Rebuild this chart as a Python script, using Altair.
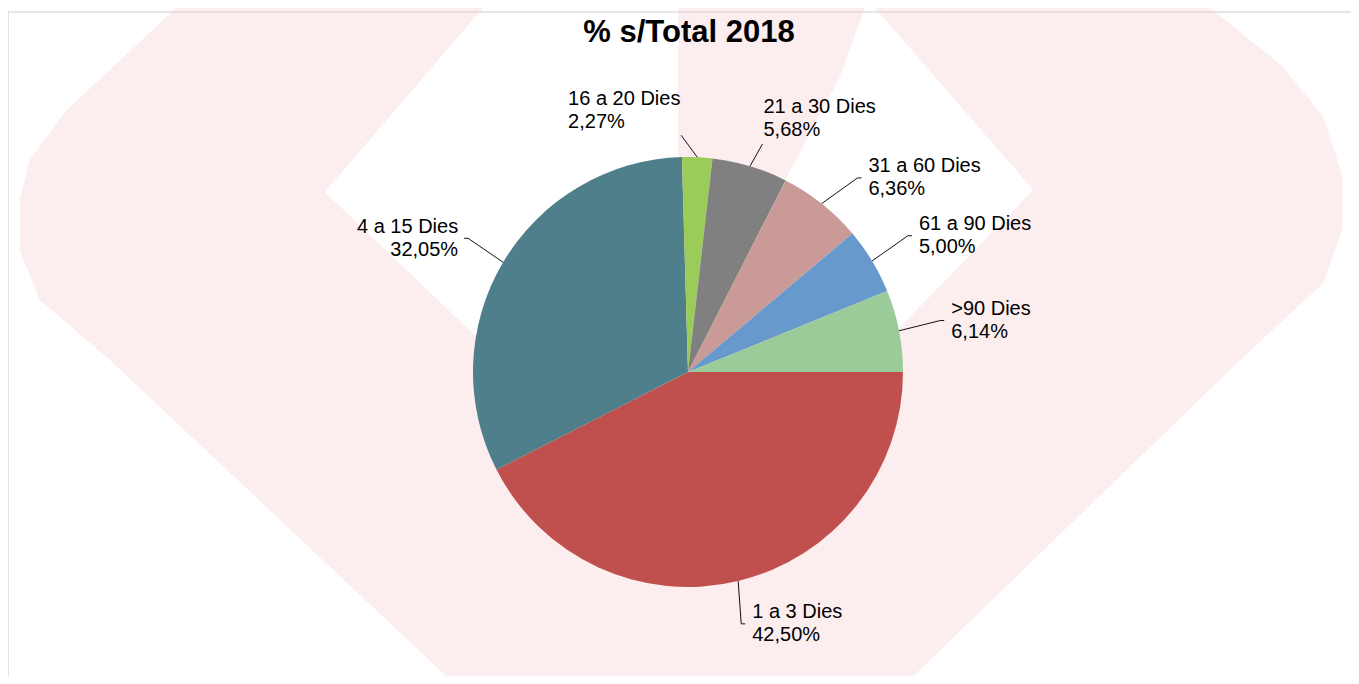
import math
import pandas as pd
import altair as alt

# ---------------- data ----------------
categories = ["1 a 3 Dies", "4 a 15 Dies", "16 a 20 Dies", "21 a 30 Dies",
              "31 a 60 Dies", "61 a 90 Dies", ">90 Dies"]
shares = [42.50, 32.05, 2.27, 5.68, 6.36, 5.00, 6.14]
colors = ["#C0504D", "#4F7F8B", "#9BCB59", "#808080", "#C99A98", "#6799CC", "#9BCB98"]
TITLE = "% s/Total 2018"

# ---------------- layout (screen pixels) ----------------
OX, OY = 8, 12            # view origin on the page
W, H = 1343, 664          # view size
CX, CY = 688, 372         # pie centre
R = 215                   # pie radius
R_LABEL = 258             # radius of label attachment points
FONT = "Liberation Sans"
LINE_H = 23
# small manual nudges of label attachment points (like moved Excel labels)
LABEL_NUDGE = {"1 a 3 Dies": (-7, 1), "4 a 15 Dies": (2, -2), "16 a 20 Dies": (-18, 21),
               "21 a 30 Dies": (0, 19), "31 a 60 Dies": (9, 8), "61 a 90 Dies": (-1, -3),
               ">90 Dies": (-1, -2)}
# labels that sit above their leader instead of beside it: (dx, dy) of text block
LABEL_ABOVE = {"16 a 20 Dies": (-113, -24.5), "21 a 30 Dies": (1, -25)}

# ---------------- derived table ----------------
total = sum(shares)
rows = []
cum = 0.0
for i, (c, v) in enumerate(zip(categories, shares)):
    mid = (cum + v / 2) / total
    cum += v
    phi = 2 * math.pi * mid          # clockwise from 3 o'clock (screen y down)
    ca, sa = math.cos(phi), math.sin(phi)
    ex, ey = CX + R * ca, CY + R * sa
    nx, ny = LABEL_NUDGE.get(c, (0, 0))
    lx, ly = CX + R_LABEL * ca + nx, CY + R_LABEL * sa + ny
    if c in LABEL_ABOVE:
        dx, dy = LABEL_ABOVE[c]
        tx, ty, align, sx = lx + dx, ly + dy, "left", lx
    elif ca >= 0:
        tx, ty, align, sx = lx + 11, ly, "left", lx + 4
    else:
        tx, ty, align, sx = lx - 10, ly, "right", lx - 4
    ty -= LINE_H / 2                 # first of two lines sits half a line above centre
    pct = f"{v:.2f}".replace(".", ",") + "%"
    rows.append(dict(cat=c, share=v, idx=i, ex=ex, ey=ey, lx=lx, ly=ly, sx=sx,
                     tx=tx, ty=ty, align=align, label=f"{c}\n{pct}"))
df = pd.DataFrame(rows)

# ---------------- faint background logo (decoration) ----------------
PINK = "#fcedee"
wm_pink = [(185, 0), (1200, 0), (1283, 67), (1323, 117), (1342, 175), (1342, 230),
           (1323, 283), (1240, 360), (905, 684), (455, 684), (110, 360), (40, 300),
           (20, 250), (20, 200), (30, 160), (67, 110)]
wm_white1 = [(490, 0), (678, 0), (678, 400), (540, 397), (325, 192)]
wm_white2 = [(868, 0), (1033, 190), (900, 327), (800, 430), (760, 228), (840, 77)]
wm_rows = []
for name, pts in (("pink", wm_pink), ("w1", wm_white1), ("w2", wm_white2)):
    for k, (px, py) in enumerate(pts):
        wm_rows.append(dict(shape=name, k=k, wx=px, wy=py))
wm = pd.DataFrame(wm_rows)

xs = alt.Scale(domain=[OX, OX + W], nice=False, zero=False)
ys = alt.Scale(domain=[OY, OY + H], reverse=True, nice=False, zero=False)

wm_base = alt.Chart(wm).encode(
    x=alt.X("wx:Q", scale=xs, axis=None),
    y=alt.Y("wy:Q", scale=ys, axis=None),
    order=alt.Order("k:Q"),
    detail="shape:N",
)
wm_pink_layer = wm_base.transform_filter(alt.datum.shape == "pink").mark_line(
    fill=PINK, stroke=PINK, strokeWidth=0.5, interpolate="linear-closed")
wm_white_layer = wm_base.transform_filter(alt.datum.shape != "pink").mark_line(
    fill="white", stroke="white", strokeWidth=0.5, interpolate="linear-closed")

frame = alt.Chart(alt.Data(values=[{}])).mark_rect(
    fill="transparent", stroke="#cfcfcf", strokeWidth=1.2
).encode(x=alt.value(0), x2=alt.value(W + 40), y=alt.value(0), y2=alt.value(H + 40))

pie = alt.Chart(df).mark_arc(radius=R).encode(
    theta=alt.Theta("share:Q", stack=True,
                    scale=alt.Scale(range=[math.pi / 2, math.pi / 2 + 2 * math.pi])),
    color=alt.Color("cat:N", scale=alt.Scale(domain=categories, range=colors), legend=None),
    order=alt.Order("idx:Q"),
    x=alt.value(CX - OX),
    y=alt.value(CY - OY),
)

leaders = alt.Chart(df).mark_rule(color="#111111", strokeWidth=1).encode(
    x=alt.X("ex:Q", scale=xs, axis=None), y=alt.Y("ey:Q", scale=ys, axis=None),
    x2="lx:Q", y2="ly:Q")
stubs = alt.Chart(df).mark_rule(color="#111111", strokeWidth=1).encode(
    x=alt.X("lx:Q", scale=xs, axis=None), y=alt.Y("ly:Q", scale=ys, axis=None),
    x2="sx:Q", y2="ly:Q")


def label_layer(al):
    return alt.Chart(df).transform_filter(alt.datum.align == al).mark_text(
        align=al, baseline="middle", font=FONT, fontSize=20, lineBreak="\n",
        lineHeight=LINE_H, color="black"
    ).encode(x=alt.X("tx:Q", scale=xs, axis=None), y=alt.Y("ty:Q", scale=ys, axis=None),
             text="label:N")


title = alt.Chart(alt.Data(values=[{"t": TITLE}])).mark_text(
    font=FONT, fontSize=31, fontWeight="bold", align="center", baseline="alphabetic",
    color="black"
).encode(x=alt.value(689 - OX), y=alt.value(42 - OY), text="t:N")

chart = alt.layer(
    wm_pink_layer, wm_white_layer, frame, pie, leaders, stubs,
    label_layer("left"), label_layer("right"), title
).properties(
    width=W, height=H,
    padding={"left": 0, "top": OY - 8, "right": 0, "bottom": 0},
    autosize=alt.AutoSizeParams(type="none"),
    background="white",
).configure_view(stroke=None)

chart.save("out.html", embed_options={"renderer": "svg", "actions": False})
